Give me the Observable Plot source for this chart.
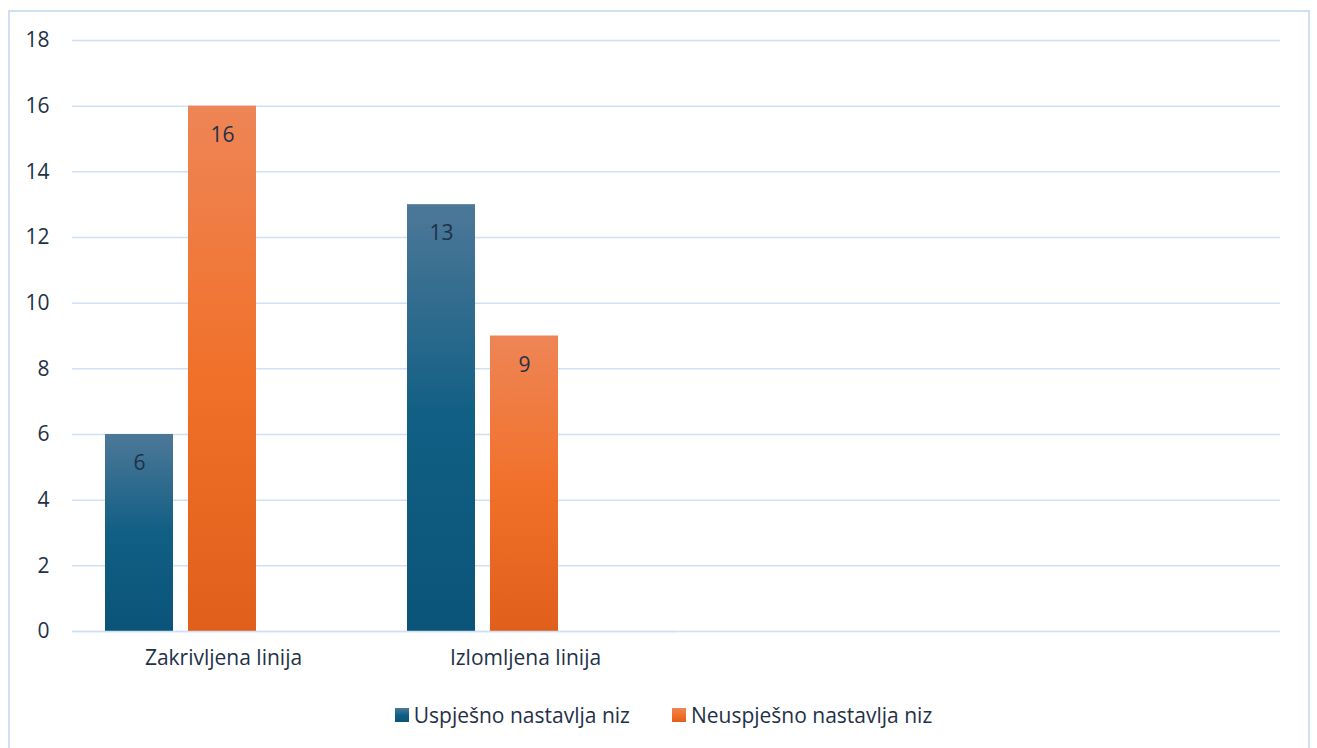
<!DOCTYPE html>
<html>
<head>
<meta charset="utf-8">
<script src="https://cdn.jsdelivr.net/npm/d3@7"></script>
<script src="https://cdn.jsdelivr.net/npm/@observablehq/plot@0.6"></script>
<style>
  html, body { margin: 0; padding: 0; background: #fff; }
  #wrap { position: relative; width: 1317px; height: 748px; overflow: hidden; font-family: "Open Sans", sans-serif; color: #1f3147; }
  #border { position: absolute; left: 8px; top: 10px; width: 1302px; height: 780px; border: 2px solid #cfe0f2; box-sizing: border-box; }
  .layer { position: absolute; left: 0; top: 0; }
  #legend { position: absolute; left: 0; top: 701px; width: 1317px; display: flex; justify-content: center; align-items: center; font-size: 21px; padding-left: 10px; box-sizing: border-box; }
  .item { display: flex; align-items: center; }
  .sw { width: 14px; height: 14px; margin-right: 5px; }
  .gap { width: 42px; }
</style>
</head>
<body>
<div id="wrap">
  <div id="border"></div>
  <div id="grid" class="layer"></div>
  <div id="chart" class="layer"></div>
  <div id="legend"></div>
</div>
<script>
const categories = ["Zakrivljena linija", "Izlomljena linija"];
const series = ["Uspješno nastavlja niz", "Neuspješno nastavlja niz"];
const uspjesno = [6, 13];
const neuspjesno = [16, 9];
const yTicks = [0, 2, 4, 6, 8, 10, 12, 14, 16, 18];

const data = [];
categories.forEach((c, i) => {
  data.push({category: c, series: series[0], value: uspjesno[i]});
  data.push({category: c, series: series[1], value: neuspjesno[i]});
});

const gradients = {
  [series[0]]: {id: "gradU", stops: [["0%", "#4d7898"], ["50%", "#115f84"], ["100%", "#0b5479"]]},
  [series[1]]: {id: "gradN", stops: [["0%", "#ee8556"], ["50%", "#f1712b"], ["100%", "#e05f1a"]]}
};

const textColor = "#1f3147";
const gridColor = "#cfe0f2";
const fs = 21;

const common = {
  width: 1317,
  height: 690,
  marginTop: 40,
  marginBottom: 59,
  marginLeft: 72,
  marginRight: 37,
  style: {fontFamily: "'Open Sans', sans-serif", fontSize: fs + "px", color: textColor, background: "transparent"},
  y: {domain: [0, 18], ticks: yTicks, axis: null}
};

// background layer: gridlines and y axis across the full plot area
const gridPlot = Plot.plot({
  ...common,
  marks: [
    Plot.ruleY(yTicks, {stroke: gridColor, strokeWidth: 1.5}),
    Plot.axisY({ticks: yTicks, tickSize: 0, tickPadding: 23, label: null, fontSize: fs})
  ]
});
document.getElementById("grid").appendChild(gridPlot);

// foreground layer: grouped bars
const plot = Plot.plot({
  ...common,
  fx: {domain: categories, paddingInner: 0, paddingOuter: 1, align: 0, axis: "bottom", tickSize: 0, tickPadding: 19, label: null},
  x: {domain: series, paddingInner: 0.1786, paddingOuter: 0.887, align: 0.2215, axis: null},
  marks: [
    ...series.map(s => Plot.barY(data.filter(d => d.series === s), {
      fx: "category", x: "series", y: "value", fill: `url(#${gradients[s].id})`
    })),
    Plot.ruleY([0], {stroke: gridColor, strokeWidth: 1.5}),
    Plot.text(data, {fx: "category", x: "series", y: "value", text: d => String(d.value), dy: 29, fill: textColor, fontSize: fs})
  ]
});

const svg = d3.select(plot);
const defs = svg.insert("defs", ":first-child");
Object.values(gradients).forEach(g => {
  const lg = defs.append("linearGradient").attr("id", g.id).attr("x1", 0).attr("y1", 0).attr("x2", 0).attr("y2", 1);
  g.stops.forEach(([o, c]) => lg.append("stop").attr("offset", o).attr("stop-color", c));
});
document.getElementById("chart").appendChild(plot);

const legend = d3.select("#legend");
series.forEach((s, i) => {
  if (i > 0) legend.append("div").attr("class", "gap");
  const it = legend.append("div").attr("class", "item");
  const st = gradients[s].stops;
  it.append("div").attr("class", "sw").style("background", `linear-gradient(${st.map(([o, c]) => c + " " + o).join(", ")})`);
  it.append("span").text(s);
});
</script>
</body>
</html>
